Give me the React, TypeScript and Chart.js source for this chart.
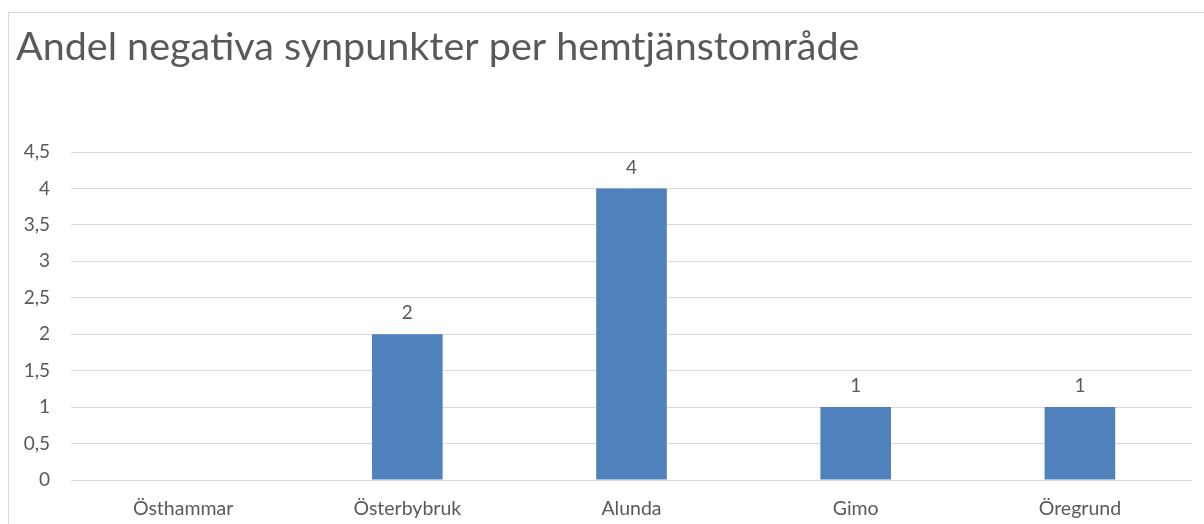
import React, { useEffect, useRef } from "react";
import { Chart, registerables } from "chart.js";

Chart.register(...registerables);

const TITLE = "Andel negativa synpunkter per hemtjänstområde";
const categories = ["Östhammar", "Österbybruk", "Alunda", "Gimo", "Öregrund"];
const values: (number | null)[] = [null, 2, 4, 1, 1];
const yMin = 0;
const yMax = 4.5;
const yStep = 0.5;

const TEXT = "#595959";
const GRID = "#d9d9d9";
const BAR = "#4f81bd";
const FONT = "Lato";

const dataLabels = {
  id: "dataLabels",
  afterDatasetsDraw(chart: any) {
    const ctx = chart.ctx;
    const meta = chart.getDatasetMeta(0);
    ctx.save();
    ctx.font = `19px ${FONT}`;
    ctx.fillStyle = TEXT;
    ctx.textAlign = "center";
    ctx.textBaseline = "middle";
    meta.data.forEach((el: any, i: number) => {
      const v = values[i];
      if (v === null || v === undefined) return;
      ctx.fillText(String(v), el.x, el.y - 21);
    });
    ctx.restore();
  },
};

export default function App() {
  const ref = useRef<HTMLCanvasElement | null>(null);
  useEffect(() => {
    if (!ref.current) return;
    const chart = new Chart(ref.current, {
      type: "bar",
      data: {
        labels: categories,
        datasets: [
          {
            data: values,
            backgroundColor: BAR,
            borderWidth: 0,
            barPercentage: 0.315,
            categoryPercentage: 1,
          },
        ],
      },
      options: {
        responsive: false,
        animation: false,
        layout: { padding: { left: 16, right: 12, top: 24, bottom: 0 } },
        plugins: {
          legend: { display: false },
          tooltip: { enabled: false },
          title: {
            display: true,
            text: TITLE,
            align: "start",
            color: TEXT,
            font: { family: FONT, size: 39.5, weight: "normal" },
            padding: { top: 0, bottom: 80.6 },
          },
        },
        scales: {
          x: {
            afterFit(scale: any) {
              scale.height = 44;
            },
            grid: { display: false },
            border: { display: false },
            ticks: {
              color: TEXT,
              font: { family: FONT, size: 19.5 },
              padding: 9,
              maxRotation: 0,
            },
          },
          y: {
            min: yMin,
            max: yMax,
            afterFit(scale: any) {
              scale.width = 55;
            },
            grid: { color: GRID, lineWidth: 1, drawTicks: false },
            border: { display: false },
            ticks: {
              stepSize: yStep,
              color: TEXT,
              font: { family: FONT, size: 19 },
              padding: 21,
              callback: (v: any) => String(v).replace(".", ","),
            },
          },
        },
      },
      plugins: [dataLabels],
    });
    return () => chart.destroy();
  }, []);

  return (
    <div
      style={{
        position: "fixed",
        left: 0,
        top: 0,
        width: 1204,
        height: 524,
        background: "#fff",
        overflow: "hidden",
      }}
    >
      <div
        style={{
          position: "absolute",
          left: 8,
          top: 12,
          width: 1260,
          height: 600,
          border: `1px solid ${GRID}`,
          boxSizing: "border-box",
        }}
      />
      <canvas
        ref={ref}
        width={1204}
        height={524}
        style={{ position: "absolute", left: 0, top: 0, width: 1204, height: 524 }}
      />
    </div>
  );
}
